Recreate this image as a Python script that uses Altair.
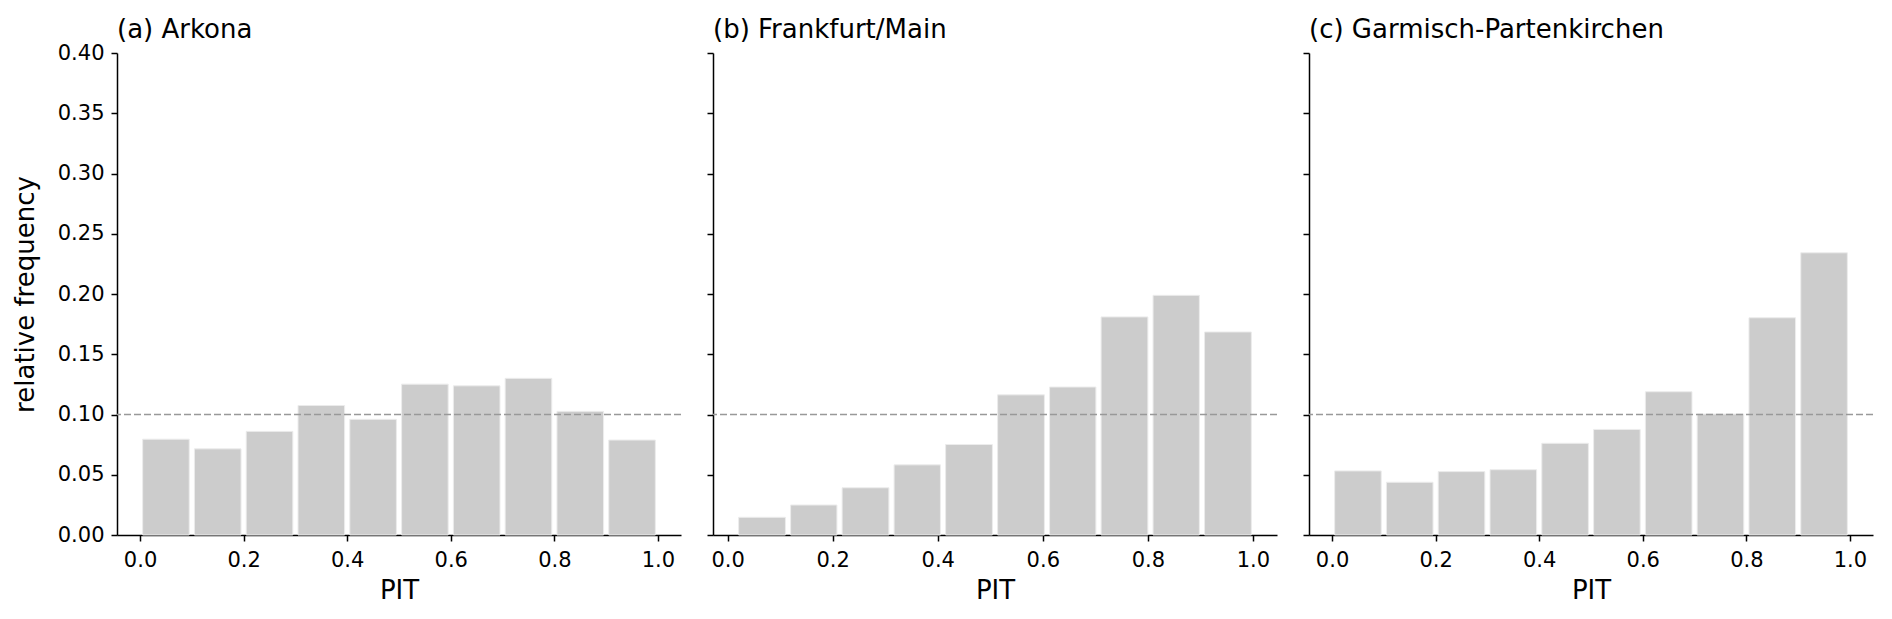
import altair as alt
import pandas as pd

# ---- data ----
titles = ["(a) Arkona", "(b) Frankfurt/Main", "(c) Garmisch-Partenkirchen"]

edges_a = [0.0, 0.1, 0.2, 0.3, 0.4, 0.5, 0.6, 0.7, 0.8, 0.9, 1.0]
freq_a = [0.0795, 0.0715, 0.086, 0.1075, 0.096, 0.1252, 0.1238, 0.130, 0.1026, 0.0788]

edges_b = [0.016, 0.115, 0.213, 0.312, 0.410, 0.509, 0.608, 0.706, 0.805, 0.903, 1.002]
freq_b = [0.0147, 0.0249, 0.0392, 0.0582, 0.0751, 0.1163, 0.1228, 0.181, 0.1989, 0.1685]

edges_c = [0.0, 0.1, 0.2, 0.3, 0.4, 0.5, 0.6, 0.7, 0.8, 0.9, 1.0]
freq_c = [0.0532, 0.0438, 0.0526, 0.0542, 0.0761, 0.0876, 0.1189, 0.1004, 0.1803, 0.2342]

uniform_level = [0.1]
x_ticks = [0.0, 0.2, 0.4, 0.6, 0.8, 1.0]
y_ticks = [0.0, 0.05, 0.10, 0.15, 0.20, 0.25, 0.30, 0.35, 0.40]

FONT = "DejaVu Sans"
RWIDTH = 0.9
PANEL_W = 564
PANEL_H = 482


def make_panel(title, edges, freq, first):
    rows = []
    for i, f in enumerate(freq):
        lo, hi = edges[i], edges[i + 1]
        c = (lo + hi) / 2
        w = (hi - lo) * RWIDTH
        rows.append({"x": c - w / 2, "x2": c + w / 2, "f": f})
    df = pd.DataFrame(rows)
    lo, hi = df["x"].min(), df["x2"].max()
    m = 0.05 * (hi - lo)
    xscale = alt.Scale(domain=[lo - m, hi + m], nice=False, zero=False)
    yscale = alt.Scale(domain=[0, 0.4], nice=False)

    xaxis = alt.Axis(values=x_ticks, format=".1f", title="PIT", grid=False)
    if first:
        yaxis = alt.Axis(values=y_ticks, format=".2f", title="relative frequency", grid=False)
        title_offset = -1
    else:
        yaxis = alt.Axis(values=y_ticks, labels=False, title=None, grid=False)
        title_offset = 9

    bars = alt.Chart(df).mark_rect(color="#cccccc", stroke="#ececec", strokeWidth=1).encode(
        x=alt.X("x:Q", scale=xscale, axis=xaxis),
        x2="x2:Q",
        y=alt.Y("f:Q", scale=yscale, axis=yaxis),
        y2=alt.datum(0),
    )
    rule = alt.Chart(pd.DataFrame({"y": uniform_level})).mark_rule(
        color="#999999", strokeDash=[7, 3], strokeWidth=1.4
    ).encode(y=alt.Y("y:Q", scale=yscale))

    return alt.layer(bars, rule).properties(
        width=PANEL_W,
        height=PANEL_H,
        title=alt.TitleParams(
            text=title, anchor="start", frame="group", font=FONT, fontSize=26,
            fontWeight="normal", color="black", offset=title_offset,
        ),
    )


chart = alt.hconcat(
    make_panel(titles[0], edges_a, freq_a, True),
    make_panel(titles[1], edges_b, freq_b, False),
    make_panel(titles[2], edges_c, freq_c, False),
    spacing=24,
).properties(
    padding={"left": 4, "top": 9, "right": 5, "bottom": 5}
).configure_view(
    stroke=None
).configure_axis(
    domainColor="black", domainWidth=1.5, tickColor="black", tickWidth=1.5, tickSize=6,
    labelFont=FONT, labelFontSize=21, labelColor="black",
    titleFont=FONT, titleFontSize=26, titleFontWeight="normal", titleColor="black",
).configure_axisX(labelPadding=8, titlePadding=7).configure_axisY(labelPadding=7, titlePadding=19)

chart.save("out.html", embed_options={"renderer": "svg", "actions": False})
